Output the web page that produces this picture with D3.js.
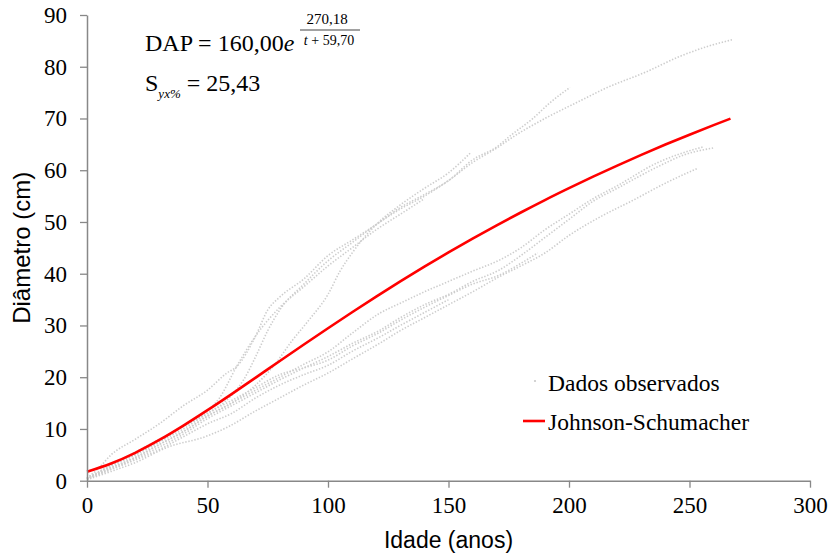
<!DOCTYPE html>
<html>
<head>
<meta charset="utf-8">
<script src="https://cdn.jsdelivr.net/npm/d3@7"></script>
<style>
body { margin: 0; background: #fff; }
</style>
</head>
<body>
<div id="chart"></div>
<script>
// tick labels
const xTicks = [0, 50, 100, 150, 200, 250, 300];
const yTicks = [0, 10, 20, 30, 40, 50, 60, 70, 80, 90];

const treeA = [[0,0.3],[10,3],[20,5.5],[30,8],[40,10.5],[50,13],[60,16.5],[65,19.5],[70,24],[75,29],[80,33],[90,38],[100,42.5],[110,46],[120,49.5],[130,52.5],[140,55],[150,58],[160,61.5],[170,64.3],[178,66.8],[190,70],[205,73.5],[215,75.8],[232,79],[246,82],[258,84],[267.6,85.2]];
const treeB = [[0,0.5],[5,2.5],[10,5],[20,8],[30,11],[40,14.5],[50,17.5],[58,20.8],[62,22],[70,28],[75,33],[80,35.5],[90,39],[100,43.5],[110,46.5],[120,49.5],[130,52.8],[140,55.3],[150,58],[160,62],[170,64.5],[176,66.8],[185,70],[192,73],[200.4,76]];
const treeC = [[0,0.5],[10,2.5],[20,4.5],[30,7],[40,9.5],[50,12.5],[60,15],[70,18.5],[78,22.5],[85,27],[92,31],[100,36],[105,40.5],[110,44],[115,47],[120,49.5],[130,53.3],[140,56.5],[150,59.5],[159,63.3]];
const treeH = [[0,0.5],[10,3],[20,5],[30,7.5],[40,10.5],[50,13.5],[55,16],[62,22],[70,28],[80,33.5],[90,37.5],[100,41.5],[110,45],[120,48.5],[130,51.5],[140,54.5]];
const treeD = [[0,0.3],[10,2.5],[20,4.5],[30,7],[40,9.5],[50,12.5],[60,15],[70,17.5],[80,20],[90,22.5],[100,24.9],[110,28.5],[121.6,32.4],[130,34.3],[140,36.5],[150,38.5],[160,40.5],[171,42.6],[180,45],[190,48.5],[200,51.5],[210,54.5],[220,57],[236.5,61.4],[245,63],[255.6,64.5]];
const treeE = [[0,0.3],[10,2.2],[20,4.2],[30,6.5],[40,9],[50,12],[60,14.5],[70,17],[80,19.5],[90,21.8],[100,24],[110,26.5],[121.6,29.1],[130,31.5],[140,34],[150,36],[160,38.5],[171,40.7],[180,43.5],[190,47],[200,50.5],[210,54],[220,56.5],[236.5,60.6],[248,63],[259.8,64.3]];
const treeF = [[0,0.2],[10,1.8],[20,3.5],[33.6,6.5],[49,8.5],[58.5,10.4],[70,13.5],[76.8,15.2],[90,18.5],[100,20.8],[110,23.5],[121.6,26.6],[130,29],[140,31.5],[150,34],[160,36.5],[171,39.4],[180,41.5],[190,44],[200,47.4],[213,51],[226.6,54.2],[240,57.5],[253.5,60.4]];
const treeG = [[0,0.4],[10,2.8],[20,5],[30,7.5],[40,10],[50,13],[60,15.5],[70,18],[80,20.5],[90,21.8],[100,23.3],[110,26],[121.6,28.7],[130,31],[140,33.5],[150,35.8],[160,38],[171,39.7],[180,42],[187,44]];
const treeK = [[0,0.3],[10,2.2],[20,4],[30,6],[40,8.5],[50,11],[60,13],[70,16],[80,18.5],[90,20.5],[100,22.3],[110,25],[121.6,27.8],[130,30],[140,32.5],[150,35]];
const trees = [treeA, treeB, treeC, treeH, treeD, treeE, treeF, treeG, treeK];

// Johnson-Schumacher fitted curve, read at every 10 years
const fitAge = [0,10,20,30,40,50,60,70,80,90,100,110,120,130,140,150,160,170,180,190,200,210,220,230,240,250,260,267];
const fitDiam = [1.73,3.32,5.39,7.87,10.65,13.63,16.74,19.93,23.13,26.32,29.47,32.56,35.58,38.51,41.36,44.12,46.78,49.35,51.83,54.23,56.53,58.76,60.90,62.96,64.96,66.87,68.72,69.98];

const W = 833, H = 553;
const margin = {top: 15, right: 23, bottom: 72.3, left: 87};

const svg = d3.select("#chart").append("svg")
    .attr("width", W).attr("height", H);

const x = d3.scaleLinear().domain([0, 300]).range([margin.left, W - margin.right]);
const y = d3.scaleLinear().domain([0, 90]).range([H - margin.bottom, margin.top]);

const serif = "'Liberation Serif', 'Times New Roman', serif";
const sans = "'Liberation Sans', Arial, sans-serif";

// observed data as dotted gray lines
const line = d3.line().x(d => x(d[0])).y(d => y(d[1])).curve(d3.curveMonotoneX);
svg.append("g").selectAll("path")
  .data(trees)
  .join("path")
    .attr("fill", "none")
    .attr("stroke", "#cdcdcd")
    .attr("stroke-width", 1.6)
    .attr("stroke-dasharray", "1.4,1.7")
    .attr("d", line);

// fitted curve
svg.append("path")
    .datum(fitAge.map((a, i) => [a, fitDiam[i]]))
    .attr("fill", "none")
    .attr("stroke", "#ff0000")
    .attr("stroke-width", 2.6)
    .attr("d", d3.line().x(d => x(d[0])).y(d => y(d[1])).curve(d3.curveMonotoneX));

// axes
const xAxis = svg.append("g")
    .attr("transform", `translate(0,${y(0)})`)
    .call(d3.axisBottom(x).tickValues(xTicks).tickSize(7).tickPadding(9).tickSizeOuter(0));
const yAxis = svg.append("g")
    .attr("transform", `translate(${x(0)},0)`)
    .call(d3.axisLeft(y).tickValues(yTicks).tickSize(7).tickPadding(13).tickSizeOuter(0));
[xAxis, yAxis].forEach(g => {
  g.select(".domain").attr("stroke", "#888").attr("stroke-width", 1.5);
  g.selectAll(".tick line").attr("stroke", "#888").attr("stroke-width", 1.3);
  g.selectAll(".tick text").attr("fill", "#000")
    .style("font-family", serif).style("font-size", "23px");
});

// axis titles
svg.append("text")
    .attr("x", (x(0) + x(300)) / 2).attr("y", 548)
    .attr("text-anchor", "middle")
    .style("font-family", sans).style("font-size", "23px")
    .text("Idade (anos)");
svg.append("text")
    .attr("transform", `translate(30,${(y(0) + y(90)) / 2}) rotate(-90)`)
    .attr("text-anchor", "middle")
    .style("font-family", sans).style("font-size", "24px")
    .text("Diâmetro (cm)");

// equation
const eq = svg.append("g").style("font-family", serif).attr("fill", "#000");
eq.append("text").attr("x", 145).attr("y", 51).style("font-size", "24px")
  .text("DAP = 160,00")
  .append("tspan").style("font-style", "italic").text("e");
eq.append("text").attr("x", 327).attr("y", 24).attr("text-anchor", "middle")
  .style("font-size", "15px").text("270,18");
eq.append("line").attr("x1", 300).attr("x2", 360).attr("y1", 30).attr("y2", 30)
  .attr("stroke", "#444").attr("stroke-width", 1.2);
const den = eq.append("text").attr("x", 329).attr("y", 45).attr("text-anchor", "middle")
  .style("font-size", "14px");
den.append("tspan").style("font-style", "italic").text("t");
den.append("tspan").text(" + 59,70");

const s = eq.append("text").attr("x", 145).attr("y", 91).style("font-size", "24px");
s.append("tspan").text("S");
s.append("tspan").attr("dy", 7).style("font-size", "13px").style("font-style", "italic").text("yx%");
s.append("tspan").attr("dy", -7).text(" = 25,43");

// legend
const leg = svg.append("g").style("font-family", serif).style("font-size", "23.5px");
leg.append("circle").attr("cx", 535).attr("cy", 381).attr("r", 1.1).attr("fill", "#c9c9c9");
leg.append("text").attr("x", 548).attr("y", 391).text("Dados observados");
leg.append("line").attr("x1", 523).attr("x2", 545).attr("y1", 421).attr("y2", 421)
  .attr("stroke", "#ff0000").attr("stroke-width", 2.6);
leg.append("text").attr("x", 548).attr("y", 430).text("Johnson-Schumacher");
</script>
</body>
</html>
